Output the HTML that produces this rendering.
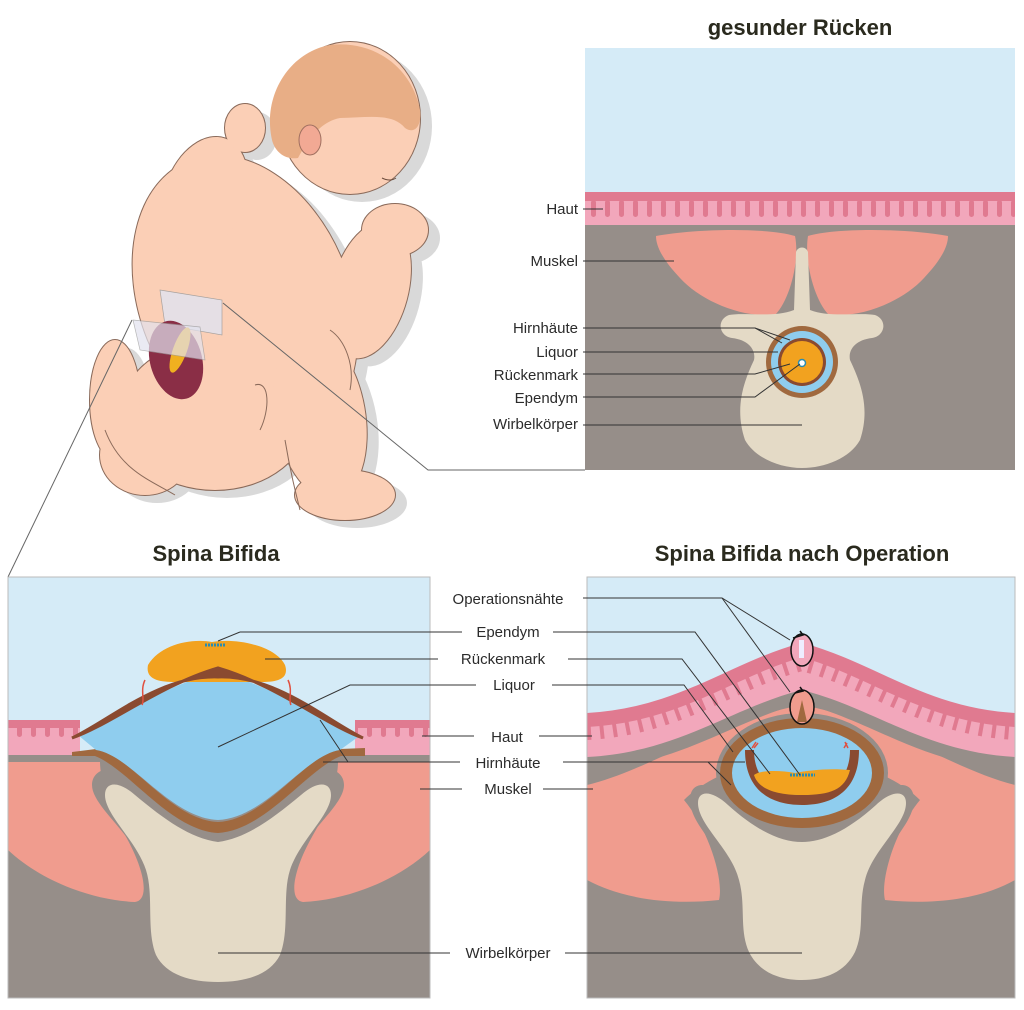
<!DOCTYPE html>
<html><head><meta charset="utf-8"><style>
html,body{margin:0;padding:0;background:#fff}
svg{display:block}
text{font-family:"Liberation Sans",sans-serif;fill:#2b2b2b}
.t{font-weight:bold;font-size:22px;fill:#2a2a1e}
.l{font-size:15px}
</style></head><body>
<svg width="1024" height="1010" viewBox="0 0 1024 1010" xmlns="http://www.w3.org/2000/svg">
<defs>
<pattern id="fing" x="0" y="0" width="14" height="40" patternUnits="userSpaceOnUse">
<rect x="3" y="0" width="5" height="17" rx="2.5" fill="#e07a90"/>
</pattern>
<clipPath id="cTR"><rect x="585" y="48" width="430" height="422"/></clipPath>
<clipPath id="cBL"><rect x="8" y="577" width="422" height="421"/></clipPath>
<clipPath id="cBR"><rect x="587" y="577" width="428" height="421"/></clipPath>
<g id="babyshape">
<ellipse cx="350" cy="118" rx="70" ry="76"/>
<ellipse cx="245" cy="300" rx="105" ry="150" transform="rotate(-22 245 300)"/>
<ellipse cx="215" cy="415" rx="95" ry="75"/>
<ellipse cx="145" cy="455" rx="45" ry="40"/>
<ellipse cx="115" cy="400" rx="25" ry="60"/>
<ellipse cx="320" cy="415" rx="45" ry="85" transform="rotate(-10 320 415)"/>
<ellipse cx="345" cy="495" rx="50" ry="25"/>
<ellipse cx="370" cy="290" rx="38" ry="70" transform="rotate(15 370 290)"/>
<ellipse cx="395" cy="230" rx="33" ry="26"/>
<ellipse cx="205" cy="195" rx="40" ry="60" transform="rotate(20 205 195)"/>
<ellipse cx="245" cy="128" rx="20" ry="24"/>
</g>
</defs>

<text class="t" x="800" y="35" text-anchor="middle">gesunder Rücken</text>
<text class="t" x="216" y="561" text-anchor="middle">Spina Bifida</text>
<text class="t" x="802" y="561" text-anchor="middle">Spina Bifida nach Operation</text>

<!-- BABY -->
<use href="#babyshape" fill="#d9d9d9" transform="translate(12,8)"/>
<use href="#babyshape" fill="#8a6a5a" transform="translate(0,0)" stroke="#8a6a5a" stroke-width="2"/>
<use href="#babyshape" fill="#fbcfb6"/>
<path d="M272,140 C262,95 290,52 330,45 C375,40 412,68 420,110 C422,125 415,135 405,128 C392,112 365,118 340,118 C318,122 305,145 298,158 C285,160 275,152 272,140 Z" fill="#e8ae86"/>
<ellipse cx="310" cy="140" rx="11" ry="15" fill="#f2a994" stroke="#a07060"/>
<path d="M382,178 q8,4 14,0" stroke="#6a4a3a" fill="none"/>
<path d="M160,290 L222,300 L222,335 L165,325 Z" fill="#e2e2ee" opacity="0.85" stroke="#999" stroke-width="0.7"/>
<ellipse cx="176" cy="360" rx="26" ry="40" fill="#8a2e46" transform="rotate(-15 176 360)"/>
<ellipse cx="180" cy="350" rx="7" ry="24" fill="#f0b020" transform="rotate(20 180 350)"/>
<path d="M133,320 L200,327 L205,360 L140,350 Z" fill="#e2e2ee" opacity="0.7" stroke="#999" stroke-width="0.7"/>
<path d="M255,385 C270,380 270,410 260,430" fill="none" stroke="#8a6a5a"/>
<path d="M105,430 C120,470 150,480 175,495" fill="none" stroke="#8a6a5a"/>
<path d="M285,440 C290,470 295,490 300,510" fill="none" stroke="#8a6a5a"/>
<path d="M330,330 C345,340 355,365 350,390" fill="none" stroke="#8a6a5a"/>
<line x1="132" y1="320" x2="8" y2="577" stroke="#666" stroke-width="1"/>
<polyline points="223,303 428,470 585,470" fill="none" stroke="#666" stroke-width="1"/>

<!-- TOP RIGHT PANEL -->
<g clip-path="url(#cTR)">
<rect x="585" y="48" width="430" height="422" fill="#d5ebf7"/>
<rect x="585" y="192" width="430" height="278" fill="#968e89"/>
<rect x="585" y="192" width="430" height="33" fill="#f2a7bb"/>
<rect x="585" y="192" width="430" height="9" fill="#e07a90"/>
<rect x="585" y="199" width="430" height="20" fill="url(#fing)"/>
<path d="M656,236 C700,228 770,228 795,236 C800,260 790,300 775,315 C740,318 700,300 680,278 C665,262 656,248 656,236 Z" fill="#f09c8e"/>
<path d="M948,236 C904,228 834,228 808,236 C804,260 814,300 829,315 C864,318 904,300 924,278 C939,262 948,248 948,236 Z" fill="#f09c8e"/>
<path d="M796,252 C798,246 806,246 808,252 L810,310 C830,318 860,312 875,315 C888,320 885,336 872,338 C855,340 848,350 850,360 C862,385 870,410 860,440 C850,458 825,468 802,468 C780,468 755,458 745,440 C735,410 742,385 754,360 C756,350 749,340 732,338 C719,336 716,320 729,315 C744,312 774,318 794,310 Z" fill="#e4dac6"/>
<circle cx="802" cy="362" r="36" fill="#a0693f"/>
<circle cx="802" cy="362" r="31" fill="#8fcdee"/>
<circle cx="802" cy="362" r="24" fill="#8a4a30"/>
<circle cx="802" cy="362" r="21" fill="#f2a21f"/>
<circle cx="802" cy="363" r="3.5" fill="#fff" stroke="#2a8cb0" stroke-width="1.5"/>
</g>
<g stroke="#333" stroke-width="1" fill="none">
<line x1="583" y1="209" x2="603" y2="209"/>
<line x1="583" y1="261" x2="674" y2="261"/>
<polyline points="583,328 755,328 790,340"/><line x1="755" y1="328" x2="782" y2="343"/>
<line x1="583" y1="352" x2="778" y2="352"/>
<polyline points="583,374 755,374 790,364"/>
<polyline points="583,397 755,397 800,364"/>
<line x1="583" y1="425" x2="802" y2="425"/>
</g>
<g text-anchor="end">
<text class="l" x="578" y="214">Haut</text>
<text class="l" x="578" y="266">Muskel</text>
<text class="l" x="578" y="333">Hirnhäute</text>
<text class="l" x="578" y="357">Liquor</text>
<text class="l" x="578" y="380">Rückenmark</text>
<text class="l" x="578" y="403">Ependym</text>
<text class="l" x="578" y="429">Wirbelkörper</text>
</g>

<!-- BOTTOM LEFT PANEL -->
<g clip-path="url(#cBL)">
<rect x="8" y="577" width="422" height="421" fill="#d5ebf7"/>
<rect x="8" y="755" width="422" height="243" fill="#968e89"/>
<rect x="8" y="720" width="72" height="35" fill="#f2a7bb"/>
<rect x="8" y="720" width="72" height="8" fill="#e07a90"/>
<rect x="8" y="726" width="72" height="16" fill="url(#fing)"/>
<rect x="355" y="720" width="75" height="35" fill="#f2a7bb"/>
<rect x="355" y="720" width="75" height="8" fill="#e07a90"/>
<rect x="355" y="726" width="75" height="16" fill="url(#fing)"/>
<path d="M8,762 L100,762 C100,780 110,810 125,835 C145,870 150,900 135,902 C90,900 40,880 8,850 Z" fill="#f09c8e"/>
<path d="M430,762 L338,762 C338,780 328,810 313,835 C293,870 288,900 303,902 C348,900 398,880 430,850 Z" fill="#f09c8e"/>
<path d="M92,785 C92,768 115,762 140,778 C170,803 190,828 218,838 C246,828 266,803 296,778 C321,762 344,768 344,785 C344,805 308,830 296,860 C286,880 292,920 287,945 C277,977 245,992 218,992 C191,992 159,977 149,945 C144,920 150,880 140,860 C128,830 92,805 92,785 Z" fill="#968e89"/>
<path d="M105,795 C105,782 118,780 135,795 C165,820 190,838 218,842 C246,838 271,820 301,795 C318,780 331,782 331,795 C331,815 300,840 290,870 C282,895 290,930 280,955 C270,975 245,982 218,982 C191,982 166,975 156,955 C146,930 154,895 146,870 C136,840 105,815 105,795 Z" fill="#e4dac6"/>
<path d="M72,752 L72,756 L95,756 C130,770 170,830 218,833 C266,830 306,770 341,756 L365,756 L365,748 L340,749 C305,755 266,820 218,822 C170,820 131,755 96,749 Z" fill="#a0693f"/>
<path d="M78,735 C110,725 150,690 218,672 C286,690 326,725 358,737 L340,750 C305,755 266,818 218,820 C170,818 131,755 96,750 Z" fill="#8fcdee"/>
<path d="M148,665 C160,645 190,638 212,642 C235,638 275,645 285,665 C290,680 275,682 262,682 L175,682 C160,682 145,680 148,665 Z" fill="#f2a21f"/>
<path d="M72,738 C110,725 160,685 218,668 C276,685 326,725 363,738 C326,720 276,675 218,677 C160,675 110,720 72,738 Z" fill="#8a4a30" stroke="#8a4a30" stroke-width="3"/>
<line x1="205" y1="645" x2="225" y2="645" stroke="#2a8cb0" stroke-width="3" stroke-dasharray="2 1"/>
<path d="M145,680 C140,690 145,700 142,705 M288,680 C293,690 288,700 291,705" stroke="#e05040" stroke-width="1.5" fill="none"/>
</g>
<rect x="8" y="577" width="422" height="421" fill="none" stroke="#bbb" stroke-width="1"/>

<!-- BOTTOM RIGHT PANEL -->
<g clip-path="url(#cBR)">
<rect x="587" y="577" width="428" height="421" fill="#d5ebf7"/>
<path d="M587,720 C680,715 730,670 802,650 C874,670 924,715 1015,720 L1015,998 L587,998 Z" fill="#968e89"/>
<path d="M587,785 C650,770 720,720 802,705 C884,720 954,770 1015,785 L1015,880 C980,900 930,905 885,900 C880,880 895,830 920,800 C900,780 860,760 802,755 C744,760 704,780 684,800 C709,830 724,880 719,900 C674,905 624,900 587,880 Z" fill="#f09c8e"/>
<path d="M587,757 C680,752 730,708 802,690 C874,708 924,752 1015,757 L1015,770 C924,765 874,722 802,703 C730,722 680,765 587,770 Z" fill="#968e89"/>
<path d="M587,720 C680,715 730,670 802,650 C874,670 924,715 1015,720 L1015,757 C924,752 874,708 802,690 C730,708 680,752 587,757 Z" fill="#f2a7bb"/>
<path d="M587,720 C680,715 730,670 802,650 C874,670 924,715 1015,720" fill="none" stroke="#e07a90" stroke-width="14"/>
<path d="M587,733 C680,728 730,683 802,664 C874,683 924,728 1015,733" fill="none" stroke="#e07a90" stroke-width="14" stroke-dasharray="4 9"/>
<path d="M690,800 C690,780 710,780 730,800 C760,830 780,835 802,835 C824,835 844,830 874,800 C894,780 914,780 914,800 C914,825 880,850 872,880 C865,905 870,930 860,955 C850,975 825,985 802,985 C779,985 754,975 744,955 C734,930 739,905 732,880 C724,850 690,825 690,800 Z" fill="#968e89"/>
<path d="M698,803 C698,790 712,790 728,805 C758,832 782,842 802,842 C822,842 846,832 876,805 C892,790 906,790 906,803 C906,825 872,850 865,880 C858,905 865,930 855,952 C845,972 825,980 802,980 C779,980 759,972 749,952 C739,930 746,905 739,880 C732,850 698,825 698,803 Z" fill="#e4dac6"/>
<ellipse cx="802" cy="773" rx="86" ry="60" fill="#968e89"/>
<ellipse cx="802" cy="773" rx="82" ry="55" fill="#a0693f"/>
<ellipse cx="802" cy="773" rx="70" ry="45" fill="#8fcdee"/>
<path d="M745,750 C745,790 770,805 802,805 C834,805 859,790 859,750 L850,750 C850,780 830,795 802,795 C774,795 754,780 754,750 Z" fill="#8a4a30"/>
<path d="M754,775 C760,770 780,770 795,773 C810,770 830,768 850,770 C845,790 830,795 802,795 C774,795 758,788 754,775 Z" fill="#f2a21f"/>
<line x1="790" y1="775" x2="815" y2="775" stroke="#2a8cb0" stroke-width="3" stroke-dasharray="2 1"/>
<path d="M752,748 l4,-6 m-2,6 l4,-5 M848,748 l-3,-6 m-1,6 l3,-5" stroke="#e05040" stroke-width="1.5"/>
<ellipse cx="802" cy="650" rx="11" ry="16" fill="#f2a7bb" stroke="#111" stroke-width="1.5"/>
<rect x="799" y="640" width="5" height="18" fill="#eef"/>
<ellipse cx="802" cy="707" rx="12" ry="17" fill="#f09c8e" stroke="#111" stroke-width="1.5"/>
<path d="M797,722 L802,700 L807,722 Z" fill="#a0693f"/>
<path d="M793,638 l10,-3 -3,-4" fill="none" stroke="#111" stroke-width="1.5"/>
<path d="M795,693 l8,-2 -3,-4" fill="none" stroke="#111" stroke-width="1.5"/>
</g>
<rect x="587" y="577" width="428" height="421" fill="none" stroke="#bbb" stroke-width="1"/>

<g stroke="#333" stroke-width="1" fill="none">
<polyline points="583,598 722,598 790,640"/><line x1="722" y1="598" x2="790" y2="692"/>
<line x1="218" y1="641" x2="240" y2="632"/><line x1="240" y1="632" x2="462" y2="632"/>
<polyline points="553,632 695,632 800,775"/>
<line x1="265" y1="659" x2="438" y2="659"/>
<polyline points="568,659 682,659 770,774"/>
<polyline points="218,747 350,685 476,685"/>
<polyline points="552,685 684,685 733,752"/>
<line x1="422" y1="736" x2="474" y2="736"/><line x1="539" y1="736" x2="592" y2="736"/>
<polyline points="323,762 348,762 320,720"/><line x1="348" y1="762" x2="460" y2="762"/>
<polyline points="563,762 708,762 731,785"/><line x1="708" y1="762" x2="745" y2="762"/>
<line x1="420" y1="789" x2="462" y2="789"/><line x1="543" y1="789" x2="593" y2="789"/>
<line x1="218" y1="953" x2="450" y2="953"/><line x1="565" y1="953" x2="802" y2="953"/>
</g>
<g text-anchor="middle">
<text class="l" x="508" y="604">Operationsnähte</text>
<text class="l" x="508" y="637">Ependym</text>
<text class="l" x="503" y="664">Rückenmark</text>
<text class="l" x="514" y="690">Liquor</text>
<text class="l" x="507" y="742">Haut</text>
<text class="l" x="508" y="768">Hirnhäute</text>
<text class="l" x="508" y="794">Muskel</text>
<text class="l" x="508" y="958">Wirbelkörper</text>
</g>
</svg>
</body></html>
